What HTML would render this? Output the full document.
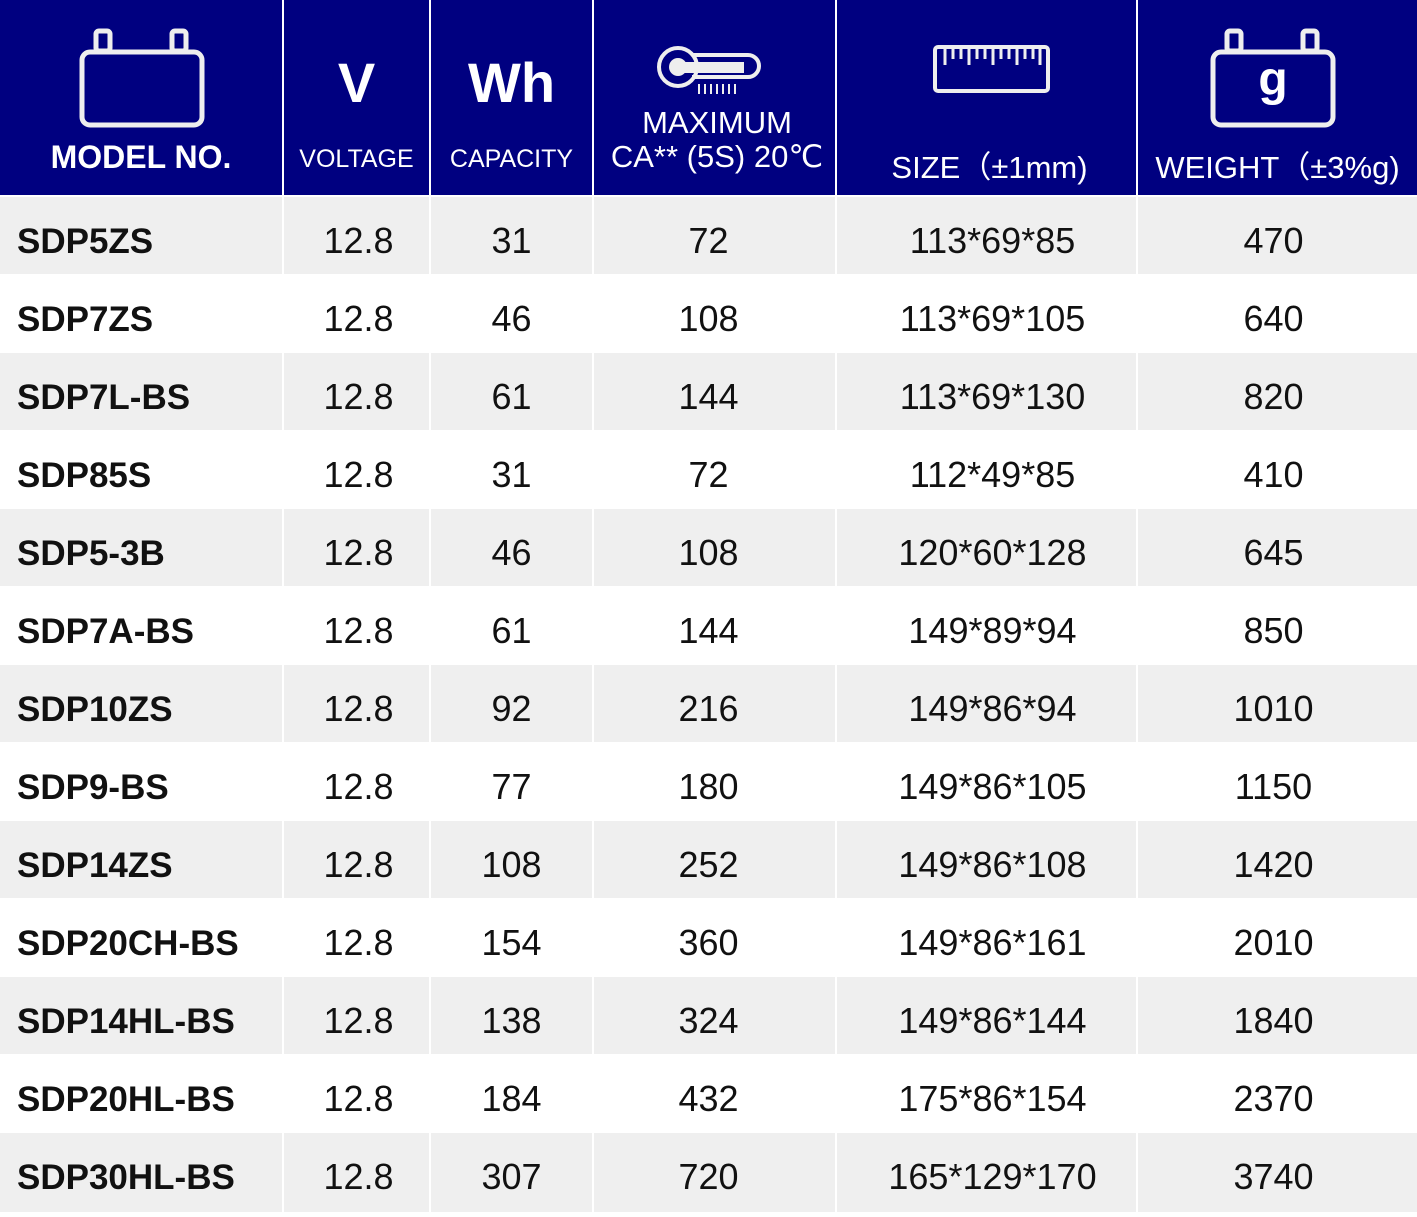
<!DOCTYPE html><html><head><style>
body{margin:0;width:1417px;height:1212px;position:relative;background:#fff;font-family:"Liberation Sans",sans-serif;overflow:hidden}
.h{position:absolute;top:0;height:195px;background:#000080;color:#fff}
.c{position:absolute;height:78px}
.t{position:absolute;color:#fff;text-align:center;white-space:nowrap}
.d{position:absolute;font-size:36px;color:#111;line-height:78px;text-align:center;white-space:nowrap}
</style></head><body>
<div class="h" style="left:0;width:282px"></div>
<div class="h" style="left:284px;width:145px"></div>
<div class="h" style="left:431px;width:161px"></div>
<div class="h" style="left:594px;width:241px"></div>
<div class="h" style="left:837px;width:299px"></div>
<div class="h" style="left:1138px;width:279px"></div>
<svg style="position:absolute;left:0;top:0" width="1417" height="195" fill="none" stroke="#eee" stroke-width="5">
<rect x="82" y="52" width="120" height="73" rx="8"/><rect x="96" y="31" width="14" height="20" rx="3"/><rect x="172" y="31" width="14" height="20" rx="3"/>
<rect x="1213" y="52" width="120" height="73" rx="8"/><rect x="1227" y="31" width="14" height="20" rx="3"/><rect x="1303" y="31" width="14" height="20" rx="3"/>
<circle cx="678" cy="67" r="19" stroke-width="4"/><path d="M692 55 H748 a11 11 0 0 1 0 22 H692" stroke-width="4"/><rect x="672" y="62" width="72" height="11" fill="#eee" stroke="none"/><circle cx="678" cy="67" r="9" fill="#eee" stroke="none"/>
<path d="M699 84v10M705 84v10M711 84v10M717 84v10M723 84v10M729 84v10M735 84v10" stroke-width="2"/>
<rect x="935" y="47" width="113" height="44" rx="3" stroke-width="4"/>
<path d="M945 49v16M953 49v10M961 49v10M969 49v16M977 49v10M985 49v10M993 49v16M1001 49v10M1009 49v10M1017 49v16M1025 49v10M1033 49v10M1040 49v16" stroke-width="3"/>
</svg>
<div class="t" style="left:1213px;width:120px;top:52px;font-size:48px;font-weight:bold">g</div>
<div class="t" style="left:0;width:282px;top:139px;font-size:32px;font-weight:bold">MODEL NO.</div>
<div class="t" style="left:284px;width:145px;top:50px;font-size:56px;font-weight:bold">V</div>
<div class="t" style="left:284px;width:145px;top:145px;font-size:25px">VOLTAGE</div>
<div class="t" style="left:431px;width:161px;top:50px;font-size:56px;font-weight:bold">Wh</div>
<div class="t" style="left:431px;width:161px;top:145px;font-size:25px">CAPACITY</div>
<div class="t" style="left:594px;width:246px;top:106px;font-size:31px;line-height:34px">MAXIMUM<br>CA** (5S) 20℃</div>
<div class="t" style="left:840px;width:299px;top:142px;font-size:31px">SIZE（±1mm)</div>
<div class="t" style="left:1138px;width:279px;top:142px;font-size:31px">WEIGHT（±3%g)</div>
<div id="rows"></div>
<script>
var D=[["SDP5ZS",31,72,"113*69*85",470],["SDP7ZS",46,108,"113*69*105",640],["SDP7L-BS",61,144,"113*69*130",820],["SDP85S",31,72,"112*49*85",410],["SDP5-3B",46,108,"120*60*128",645],["SDP7A-BS",61,144,"149*89*94",850],["SDP10ZS",92,216,"149*86*94",1010],["SDP9-BS",77,180,"149*86*105",1150],["SDP14ZS",108,252,"149*86*108",1420],["SDP20CH-BS",154,360,"149*86*161",2010],["SDP14HL-BS",138,324,"149*86*144",1840],["SDP20HL-BS",184,432,"175*86*154",2370],["SDP30HL-BS",307,720,"165*129*170",3740]];
var cols=[[0,282],[284,145],[431,161],[594,241],[837,299],[1138,279]],off=[0,2,0,-6,6,-4],h="";
D.forEach(function(r,i){var y=197+i*78;
if(i%2==0)cols.forEach(function(c){h+='<div class="c" style="background:#efefef;left:'+c[0]+'px;width:'+c[1]+'px;top:'+y+'px;height:'+(i==12?79:77)+'px"></div>'});
var v=[r[0],"12.8",r[1],r[2],r[3],r[4]];
v.forEach(function(t,j){var c=cols[j];
if(j==0)h+='<div class="d" style="left:17px;top:'+(y+6)+'px;font-weight:bold;text-align:left;font-size:35px">'+t+'</div>';
else h+='<div class="d" style="left:'+(c[0]+off[j])+'px;width:'+c[1]+'px;top:'+(y+5)+'px">'+t+'</div>';});});
document.getElementById("rows").innerHTML=h;
</script>
</body></html>
